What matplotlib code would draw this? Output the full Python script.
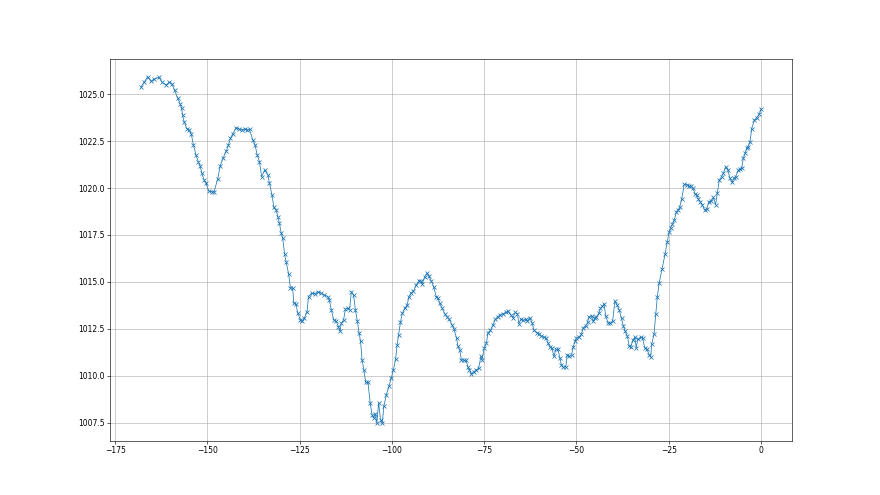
import matplotlib
matplotlib.use('Agg')
import matplotlib.pyplot as plt

'''
Pressure readings over the last week (hours before now, hPa)
'''

# Hours relative to the latest reading
hours = [
    -168.0, -167.1, -166.2, -165.3, -164.4, -163.2, -162.3, -161.2, -160.3, -159.6,
    -158.9, -158.0, -157.4, -157.0, -156.7, -156.3, -155.6, -154.9, -154.4, -153.8,
    -153.1, -152.5, -152.0, -151.5, -150.9, -150.4, -149.6, -148.8, -148.2, -147.2,
    -146.5, -145.8, -144.9, -144.3, -143.8, -143.1, -142.2, -141.5, -140.6, -139.8,
    -139.2, -138.6, -137.7, -137.1, -136.5, -135.9, -135.3, -134.5, -133.6, -133.2,
    -132.5, -132.0, -131.4, -130.9, -130.5, -130.0, -129.6, -129.1, -128.7, -128.0,
    -127.5, -126.9, -126.6, -126.0, -125.5, -124.8, -124.3, -123.7, -123.0, -122.6,
    -121.8, -120.9, -120.1, -119.2, -118.3, -117.4, -117.0, -116.4, -115.8, -115.1,
    -114.5, -114.1, -113.7, -113.1, -112.6, -112.0, -111.5, -111.0, -110.4, -109.9,
    -109.4, -108.9, -108.5, -108.1, -107.6, -107.1, -106.5, -105.9, -105.4, -105.0,
    -104.5, -104.1, -103.6, -103.1, -102.6, -102.2, -101.5, -100.8, -100.2, -99.6,
    -99.0, -98.6, -98.2, -97.7, -97.2, -96.5, -95.9, -95.4, -94.8, -94.2,
    -93.4, -92.7, -92.2, -91.8, -91.1, -90.5, -90.0, -89.3, -88.7, -88.0,
    -87.5, -87.1, -86.4, -85.7, -85.1, -84.5, -83.7, -83.2, -82.5, -82.1,
    -81.6, -81.2, -80.5, -79.9, -79.4, -79.0, -78.5, -77.9, -77.1, -76.5,
    -75.9, -75.6, -75.0, -74.4, -74.0, -73.3, -72.6, -72.0, -71.3, -70.6,
    -69.9, -69.2, -68.6, -67.8, -67.2, -66.6, -66.0, -65.6, -65.1, -64.5,
    -63.8, -63.3, -62.7, -62.0, -61.5, -60.8, -60.2, -59.5, -58.8, -58.2,
    -57.7, -57.2, -56.7, -56.1, -55.6, -55.0, -54.5, -54.1, -53.6, -52.9,
    -52.5, -52.0, -51.3, -50.9, -50.4, -50.0, -49.3, -48.7, -48.2, -47.5,
    -47.0, -46.6, -45.9, -45.5, -45.1, -44.6, -43.9, -43.5, -43.0, -42.5,
    -42.1, -41.4, -40.8, -40.2, -39.6, -39.0, -38.4, -37.8, -37.3, -36.8,
    -36.2, -35.7, -35.3, -34.7, -34.2, -33.8, -33.4, -32.6, -32.1, -31.5,
    -30.9, -30.3, -29.9, -29.6, -29.0, -28.5, -28.1, -27.6, -26.8, -26.0,
    -25.4, -24.9, -24.5, -24.0, -23.5, -22.9, -22.4, -22.0, -21.5, -20.8,
    -20.1, -19.5, -18.9, -18.4, -17.9, -17.4, -17.0, -16.5, -15.9, -15.3,
    -14.7, -14.1, -13.6, -12.9, -12.3, -11.8, -11.3, -10.7, -10.2, -9.6,
    -9.0, -8.4, -7.9, -7.3, -6.9, -6.1, -5.7, -5.2, -4.8, -4.3,
    -3.9, -3.5, -3.0, -2.5, -1.8, -1.2, -0.5, 0.0,
]

# Pressure values (hPa)
pressure = [
    1025.39, 1025.65, 1025.93, 1025.69, 1025.80, 1025.90, 1025.65, 1025.48, 1025.65, 1025.55,
    1025.20, 1024.77, 1024.50, 1024.24, 1023.88, 1023.53, 1023.17, 1023.10, 1022.90, 1022.30,
    1021.76, 1021.40, 1021.20, 1020.78, 1020.43, 1020.25, 1019.84, 1019.80, 1019.80, 1020.50,
    1021.20, 1021.58, 1021.97, 1022.30, 1022.64, 1022.90, 1023.22, 1023.15, 1023.10, 1023.15,
    1023.10, 1023.12, 1022.55, 1022.30, 1021.75, 1021.40, 1020.60, 1020.96, 1020.70, 1020.25,
    1019.63, 1018.97, 1018.83, 1018.47, 1018.12, 1017.60, 1017.33, 1016.50, 1016.08, 1015.43,
    1014.67, 1014.67, 1013.87, 1013.80, 1013.33, 1012.98, 1012.90, 1013.10, 1013.42, 1014.22,
    1014.40, 1014.37, 1014.48, 1014.40, 1014.30, 1014.22, 1014.05, 1013.50, 1012.98, 1012.90,
    1012.62, 1012.36, 1012.80, 1012.98, 1013.55, 1013.60, 1013.50, 1014.48, 1014.30, 1013.50,
    1012.94, 1012.27, 1011.83, 1010.85, 1010.30, 1009.64, 1009.64, 1008.55, 1007.93, 1007.75,
    1007.98, 1007.47, 1008.55, 1007.66, 1007.50, 1008.37, 1009.00, 1009.43, 1009.88, 1010.32,
    1010.89, 1011.65, 1012.18, 1012.84, 1013.33, 1013.60, 1013.75, 1014.22, 1014.40, 1014.50,
    1014.84, 1015.07, 1015.07, 1014.90, 1015.28, 1015.46, 1015.30, 1015.03, 1014.75, 1014.22,
    1014.13, 1013.87, 1013.60, 1013.30, 1013.15, 1013.00, 1012.71, 1012.50, 1012.00, 1011.56,
    1011.35, 1010.85, 1010.82, 1010.82, 1010.46, 1010.32, 1010.09, 1010.20, 1010.32, 1010.40,
    1011.03, 1010.85, 1011.47, 1011.73, 1012.27, 1012.43, 1012.71, 1013.00, 1013.15, 1013.25,
    1013.30, 1013.37, 1013.43, 1013.25, 1013.10, 1013.37, 1013.30, 1012.77, 1013.00, 1012.95,
    1013.00, 1012.90, 1013.10, 1012.80, 1012.41, 1012.30, 1012.25, 1012.10, 1012.05, 1012.00,
    1011.74, 1011.53, 1011.50, 1011.03, 1011.40, 1011.40, 1010.94, 1010.59, 1010.46, 1010.46,
    1011.12, 1011.03, 1011.12, 1011.53, 1011.83, 1012.00, 1012.05, 1012.20, 1012.54, 1012.66,
    1012.84, 1013.15, 1013.20, 1012.90, 1013.05, 1013.15, 1013.33, 1013.60, 1013.70, 1013.83,
    1013.20, 1012.80, 1012.80, 1012.90, 1013.99, 1013.77, 1013.50, 1013.05, 1012.66, 1012.36,
    1012.10, 1011.56, 1011.53, 1011.90, 1012.05, 1011.50, 1011.95, 1012.05, 1012.00, 1011.50,
    1011.40, 1011.12, 1011.00, 1011.70, 1012.20, 1013.30, 1014.19, 1014.93, 1015.69, 1016.47,
    1017.14, 1017.64, 1017.88, 1018.07, 1018.30, 1018.74, 1018.83, 1019.01, 1019.40, 1020.20,
    1020.18, 1020.10, 1020.10, 1019.98, 1019.70, 1019.65, 1019.42, 1019.27, 1019.10, 1018.83,
    1018.90, 1019.27, 1019.30, 1019.50, 1019.12, 1019.76, 1020.43, 1020.60, 1020.78, 1021.13,
    1020.96, 1020.52, 1020.30, 1020.52, 1020.60, 1020.96, 1021.00, 1021.08, 1021.58, 1021.85,
    1022.11, 1022.20, 1022.46, 1023.17, 1023.62, 1023.74, 1023.92, 1024.20,
]

# Plotting of the graph
plt.figure(figsize=(16, 9), dpi=55)
plt.plot(hours, pressure, marker='x', linewidth=1.0)
plt.grid(True)
plt.savefig('out.png', dpi=55)
